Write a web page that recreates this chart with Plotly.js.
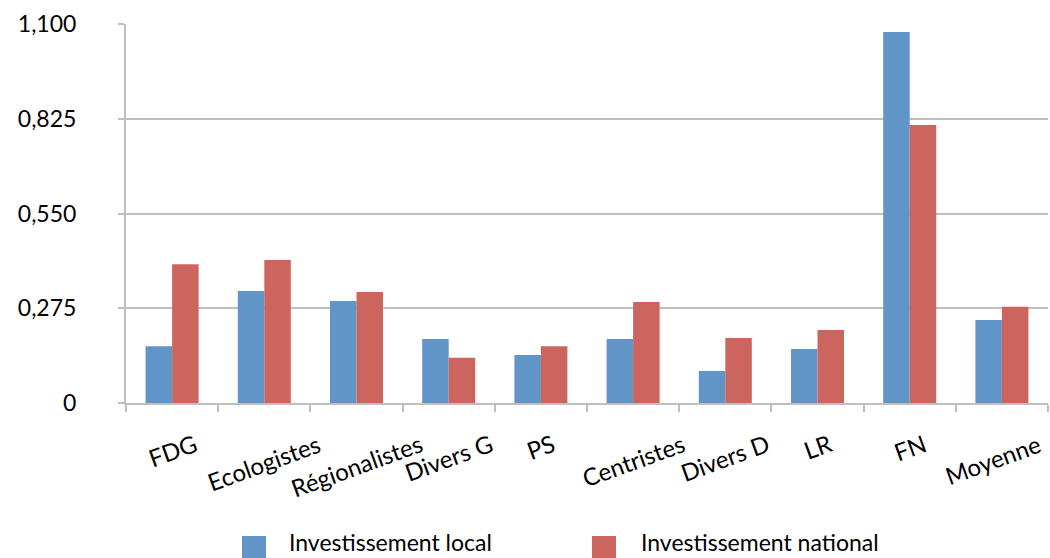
<!DOCTYPE html>
<html>
<head>
<meta charset="utf-8">
<script src="https://cdn.plot.ly/plotly-3.0.1.min.js"></script>
<style>html,body{margin:0;padding:0;background:#fff;}#chart{width:1050px;height:558px;}</style>
</head>
<body>
<div id="chart"></div>
<script>
const categories = ["FDG","Ecologistes","Régionalistes","Divers G","PS","Centristes","Divers D","LR","FN","Moyenne"];
const seriesNames = ["Investissement local","Investissement national"];
const localValues = [0.165,0.325,0.296,0.186,0.139,0.186,0.093,0.157,1.077,0.241];
const nationalValues = [0.403,0.415,0.322,0.131,0.165,0.293,0.189,0.212,0.807,0.279];
const yTickVals = [0,0.275,0.55,0.825,1.1];
const yTickText = ["0","0,275","0,550","0,825","1,100"];

const W = 1050, H = 558;
const M = {l:126, r:2, t:24, b:155};
const colors = ["#6195C8","#CD655F"];
const FONT = "Lato, 'Open Sans', sans-serif";

const pxX = p => (p - M.l) / (W - M.l - M.r);
const pxY = p => (H - M.b - p) / (H - M.t - M.b);

const traces = [
  {type:"bar", name:seriesNames[0], x:categories, y:localValues, marker:{color:colors[0]}, showlegend:false, hoverinfo:"x+y"},
  {type:"bar", name:seriesNames[1], x:categories, y:nationalValues, marker:{color:colors[1]}, showlegend:false, hoverinfo:"x+y"}
];

const annotations = categories.map((c, i) => ({
  x:c, xref:"x", y:0, yref:"paper", yanchor:"top", xanchor:"center",
  yshift:-23, xshift:(i === categories.length - 1 ? -9 : 0),
  textangle:-20, showarrow:false, text:c,
  font:{family:FONT, size:24, color:"#000"}
}));

// custom legend
const legendItems = [{sq:242, tx:287},{sq:592, tx:639}];
const shapes = [];
legendItems.forEach((it,i)=>{
  shapes.push({type:"rect", xref:"paper", yref:"paper",
    x0:pxX(it.sq), x1:pxX(it.sq+24), y0:pxY(560), y1:pxY(536),
    fillcolor:colors[i], line:{width:0}});
  annotations.push({xref:"paper", yref:"paper", x:pxX(it.tx), y:pxY(542),
    xanchor:"left", yanchor:"middle", showarrow:false, text:seriesNames[i],
    font:{family:FONT, size:23, color:"#000"}});
});

const layout = {
  width:W, height:H,
  margin:M,
  paper_bgcolor:"#fff", plot_bgcolor:"#fff",
  barmode:"group", bargap:0.425, bargroupgap:0,
  font:{family:FONT, size:22, color:"#000"},
  showlegend:false,
  xaxis:{
    type:"category", range:[-0.5,9.5],
    showticklabels:false,
    showline:true, linecolor:"#BFBFBF", linewidth:2,
    ticks:"outside", ticklen:7, tickcolor:"#BFBFBF", tickwidth:2,
    tickson:"boundaries", showgrid:false, zeroline:false
  },
  yaxis:{
    range:[0,1.1], tickmode:"array", tickvals:yTickVals, ticktext:yTickText,
    showline:true, linecolor:"#BFBFBF", linewidth:2,
    showgrid:true, gridcolor:"#BFBFBF", gridwidth:2,
    ticks:"outside", ticklen:6, tickcolor:"#BFBFBF", tickwidth:2,
    zeroline:false, ticklabelstandoff:37,
    tickfont:{family:FONT, size:23, color:"#000"}
  },
  annotations:annotations,
  shapes:shapes
};

Plotly.newPlot("chart", traces, layout, {displayModeBar:false, staticPlot:true});
</script>
</body>
</html>
